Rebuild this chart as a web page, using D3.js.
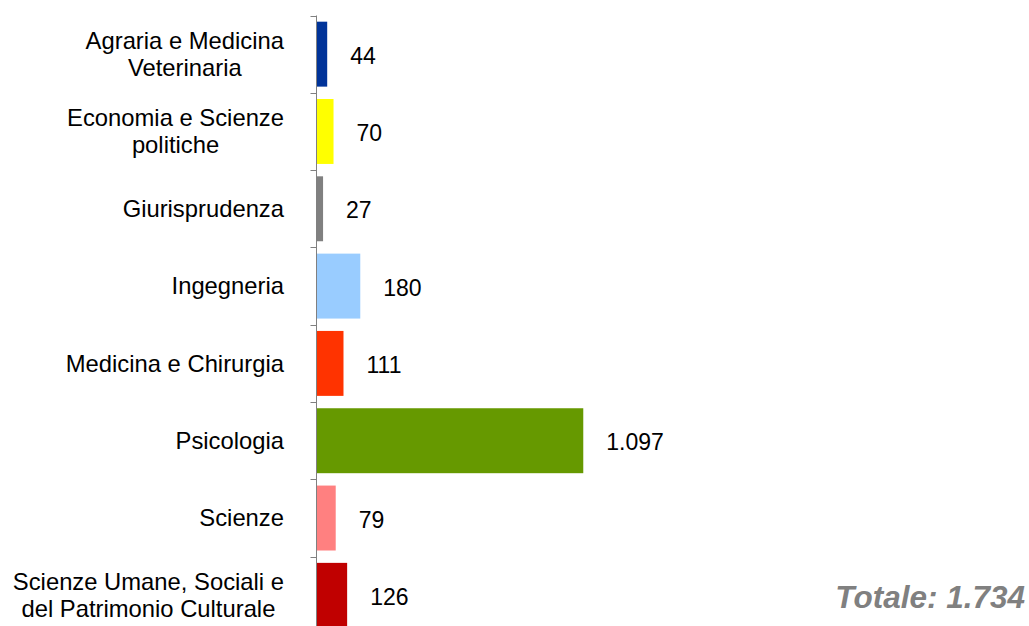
<!DOCTYPE html>
<html>
<head>
<meta charset="utf-8">
<script src="https://cdn.jsdelivr.net/npm/d3@7"></script>
<style>
  body { margin: 0; background: #fff; }
  text { font-family: "Liberation Sans", Arial, sans-serif; }
</style>
</head>
<body>
<svg id="chart" width="1029" height="626"></svg>
<script>
// data
var categories = [
  "Agraria e Medicina\nVeterinaria",
  "Economia e Scienze\npolitiche",
  "Giurisprudenza",
  "Ingegneria",
  "Medicina e Chirurgia",
  "Psicologia",
  "Scienze",
  "Scienze Umane, Sociali e\ndel Patrimonio Culturale"
];
var values = [44, 70, 27, 180, 111, 1097, 79, 126];
var colors = ["#003399", "#ffff00", "#808080", "#99ccff", "#ff3300", "#669900", "#ff8080", "#c00000"];
var totalLabel = "Totale: 1.734";

var svg = d3.select("#chart"),
  width = +svg.attr("width"),
  height = +svg.attr("height");

var axisX = 316.5;

var y = d3
  .scaleBand()
  .domain(categories)
  .range([15.5, 634])
  .paddingInner(0.16)
  .paddingOuter(0.08);

var x = d3.scaleLinear().domain([0, 1100]).range([axisX, 584]);

var fmt = d3.formatLocale({ decimal: ",", thousands: ".", grouping: [3], currency: ["", "€"] }).format(",d");

// bars
svg
  .append("g")
  .selectAll("rect")
  .data(categories)
  .enter()
  .append("rect")
  .attr("x", x(0))
  .attr("y", function(d) {
    return y(d);
  })
  .attr("width", function(d, i) {
    return x(values[i]) - x(0);
  })
  .attr("height", y.bandwidth())
  .attr("fill", function(d, i) {
    return colors[i];
  });

// axis line and ticks at band boundaries
var step = y.step();
var boundaries = categories.map(function(d) {
  return y(d) - (step - y.bandwidth()) / 2;
});
boundaries.push(boundaries[boundaries.length - 1] + step);

var axis = svg.append("g").attr("stroke", "#808080").attr("stroke-width", 1);
axis
  .append("line")
  .attr("x1", axisX)
  .attr("x2", axisX)
  .attr("y1", boundaries[0])
  .attr("y2", boundaries[boundaries.length - 1]);
axis
  .selectAll("line.tick")
  .data(boundaries)
  .enter()
  .append("line")
  .attr("class", "tick")
  .attr("x1", axisX - 6)
  .attr("x2", axisX)
  .attr("y1", function(d) {
    return Math.round(d) + 0.5;
  })
  .attr("y2", function(d) {
    return Math.round(d) + 0.5;
  });

// category labels, centred lines, block right-aligned
var lineH = 27;
var labelRight = 284;
categories.forEach(function(c) {
  var lines = c.split("\n");
  var cy = y(c) + y.bandwidth() / 2;
  var t = svg
    .append("text")
    .attr("font-size", 23.8)
    .attr("fill", "#000")
    .attr("text-anchor", "middle");
  var spans = t
    .selectAll("tspan")
    .data(lines)
    .enter()
    .append("tspan")
    .attr("y", function(d, i) {
      return cy + (i - (lines.length - 1) / 2) * lineH;
    })
    .attr("dy", "0.35em")
    .text(function(d) {
      return d;
    });
  var maxW = 0;
  spans.each(function() {
    maxW = Math.max(maxW, this.getComputedTextLength());
  });
  spans.attr("x", labelRight - maxW / 2);
});

// value labels
svg
  .append("g")
  .selectAll("text")
  .data(categories)
  .enter()
  .append("text")
  .attr("x", function(d, i) {
    return x(values[i]) + 23;
  })
  .attr("y", function(d) {
    return y(d) + y.bandwidth() / 2;
  })
  .attr("dy", "0.42em")
  .attr("font-size", 23)
  .attr("fill", "#000")
  .text(function(d, i) {
    return fmt(values[i]);
  });

// total
svg
  .append("text")
  .attr("x", 1025)
  .attr("y", 608)
  .attr("text-anchor", "end")
  .attr("font-size", 31.5)
  .attr("font-weight", "bold")
  .attr("font-style", "italic")
  .attr("fill", "#808080")
  .text(totalLabel);
</script>
</body>
</html>
